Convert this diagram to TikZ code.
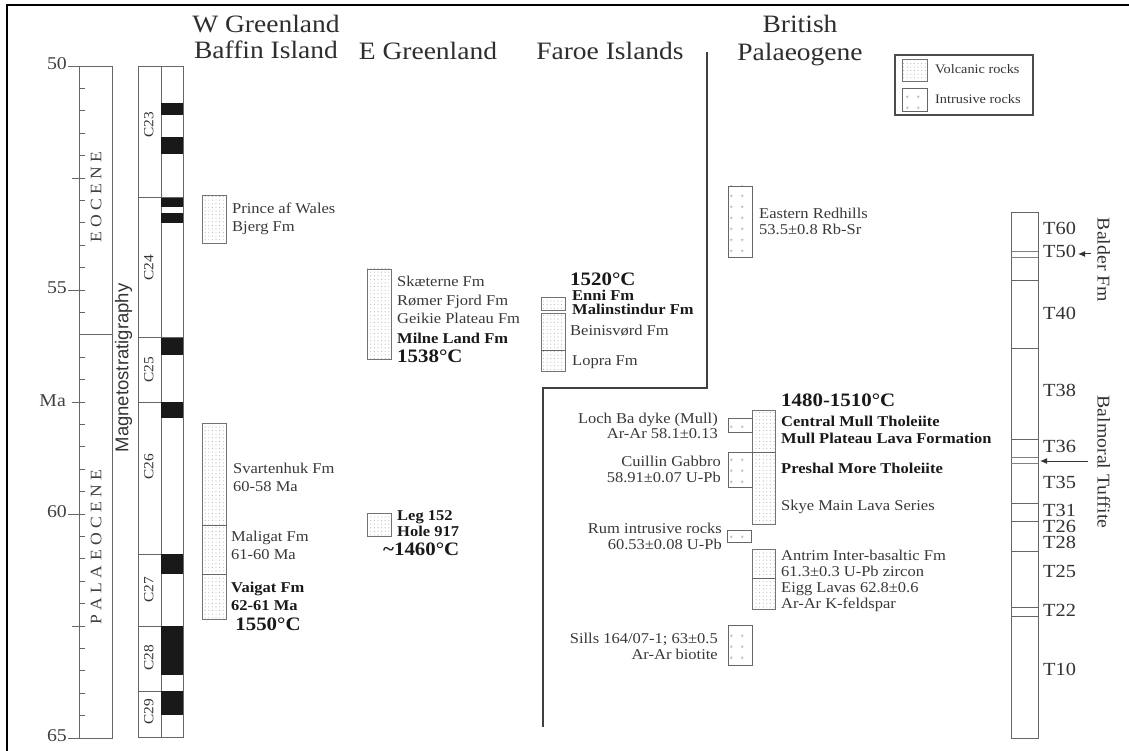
\documentclass[tikz,border=0pt]{standalone}
\usepackage{fontspec}
\setmainfont[FakeStretch=1.1]{Liberation Serif}
\newfontfamily\magfont{Liberation Sans}
\usetikzlibrary{patterns,arrows.meta}
\pgfdeclarepatternformonly{vdots}{\pgfqpoint{-1pt}{-1pt}}{\pgfqpoint{1pt}{1pt}}{\pgfqpoint{3.6pt}{3.6pt}}{%
  \pgfpathcircle{\pgfqpoint{0pt}{0pt}}{0.55pt}\pgfusepath{fill}}
\pgfdeclarepatternformonly{pluses}{\pgfqpoint{0pt}{0pt}}{\pgfqpoint{11pt}{11pt}}{\pgfqpoint{11pt}{11pt}}{%
  \pgfsetlinewidth{0.5pt}%
  \pgfpathmoveto{\pgfqpoint{4pt}{5.5pt}}\pgfpathlineto{\pgfqpoint{7pt}{5.5pt}}%
  \pgfpathmoveto{\pgfqpoint{5.5pt}{4pt}}\pgfpathlineto{\pgfqpoint{5.5pt}{7pt}}%
  \pgfusepath{stroke}}
\begin{document}
\begin{tikzpicture}[x=1pt,y=-1pt,
  tx/.style={inner sep=0pt, text height=0.68em, text depth=0pt},
  lbl/.style={tx, font=\fontsize{15}{17}\selectfont, text=black!78, anchor=west},
  lblb/.style={tx, font=\fontsize{15}{17}\selectfont\bfseries, text=black!90, anchor=west},
  lblr/.style={tx, font=\fontsize{15}{17}\selectfont, text=black!78, anchor=east},
  temp/.style={tx, anchor=west, font=\fontsize{19}{21}\selectfont\bfseries, text=black!90},
  ttl/.style={tx, font=\fontsize{25}{28}\selectfont, text=black!82},
  axnum/.style={tx, anchor=east, font=\fontsize{18}{20}\selectfont, text=black!75},
  chron/.style={tx, rotate=90, font=\fontsize{14}{16}\selectfont, text=black!80},
  epoch/.style={tx, rotate=90, font=\fontsize{16}{18}\selectfont, text=black!75},
  tlab/.style={tx, anchor=west, font=\fontsize{18.5}{20}\selectfont, text=black!80},
  side/.style={tx, rotate=-90, font=\fontsize{18}{20}\selectfont, text=black!80},
  leg/.style={tx, anchor=west, font=\fontsize{13}{15}\selectfont, text=black!80},
  volc/.style={draw=black!55, line width=0.9pt, pattern=vdots, pattern color=black!30},
  intr/.style={draw=black!60, line width=0.9pt, pattern=pluses, pattern color=black!40},
  boxline/.style={draw=black!60, line width=0.9pt},
  axline/.style={draw=black!60, line width=0.9pt},
  arr/.style={draw=black!80, line width=1pt, -{Latex[length=7pt,width=6pt]}}
]
\useasboundingbox (0,0) rectangle (1129,751);
% frame
\draw[line width=2pt] (7,751) -- (7,5) -- (1129,5);

% ---- time axis ----
\draw[axline] (79,66) rectangle (112,738);
\draw[axline] (79,334) -- (112,334);
\foreach \i in {1,...,29}{\pgfmathsetmacro\yy{66+\i*22.4}\draw[axline] (79,\yy) -- (85,\yy);}
\foreach \i in {5,15,25}{\pgfmathsetmacro\yy{66+\i*22.4}\draw[axline] (72,\yy) -- (85,\yy);}
\foreach \i in {0,10,20,30}{\pgfmathsetmacro\yy{66+\i*22.4}\draw[axline] (68,\yy) -- (79,\yy);}
\node[axnum] (a50) at (67,66) {50};
\node[axnum] (a55) at (67,290) {55};
\node[axnum] (a60) at (67,514) {60};
\node[axnum] (a65) at (67,738) {65};
\node[axnum] (ama) at (66,403) {Ma};
\node[epoch] (eoc) at (98,197) {E O C E N E};
\node[epoch] (pal) at (98,547) {P A L A E O C E N E};
\node[tx, rotate=90, font=\magfont\fontsize{18.5}{20}\selectfont, text=black!80] (mag) at (125,368) {Magnetostratigraphy};

% ---- magnetostratigraphy column ----
\draw[axline] (138,66) rectangle (183,737);
\draw[axline] (161,66) -- (161,737);
\foreach \yy in {197,337,402,554,626,691}{\draw[axline] (138,\yy) -- (183,\yy);}
\foreach \a/\b in {103/115,137/154,198/207,213/223,338/355,402/418,554/574,626/675,691/715}{
  \fill[black!90] (161,\a) rectangle (183,\b);}
\node[chron] (c23) at (150,125) {C23};
\node[chron] (c24) at (150,268) {C24};
\node[chron] (c25) at (150,370) {C25};
\node[chron] (c26) at (150,467) {C26};
\node[chron] (c27) at (150,590) {C27};
\node[chron] (c28) at (150,658) {C28};
\node[chron] (c29) at (150,712) {C29};

% ---- titles ----
\node[ttl] (t1) at (266,29) {W Greenland};
\node[ttl] (t2) at (266,55) {Baffin Island};
\node[ttl] (t3) at (428,56) {E Greenland};
\node[ttl] (t4) at (610,56) {Faroe Islands};
\node[ttl] (t5) at (800,29) {British};
\node[ttl] (t6) at (800,57) {Palaeogene};

% divider
\draw[draw=black!75, line width=1.3pt] (707,52) -- (707,388) -- (543,388) -- (543,727);

% ---- W Greenland ----
\draw[volc] (202,195) rectangle (226,243);
\node[lbl] (pw1) at (232,210) {Prince af Wales};
\node[lbl] (pw2) at (232,228) {Bjerg Fm};
\draw[volc] (202,423) rectangle (226,619);
\draw[boxline] (202,525) -- (226,525);
\draw[boxline] (202,574) -- (226,574);
\node[lbl] (sv1) at (233,470) {Svartenhuk Fm};
\node[lbl] (sv2) at (233,488) {60-58 Ma};
\node[lbl] (mg1) at (231,538) {Maligat Fm};
\node[lbl] (mg2) at (231,556) {61-60 Ma};
\node[lblb] (vg1) at (231,589) {Vaigat Fm};
\node[lblb] (vg2) at (231,607) {62-61 Ma};
\node[temp, anchor=center] (vgt) at (268,627) {1550°C};

% ---- E Greenland ----
\draw[volc] (367,269) rectangle (391,359);
\node[lbl] (eg1) at (397,283) {Skæterne Fm};
\node[lbl] (eg2) at (397,302) {Rømer Fjord Fm};
\node[lbl] (eg3) at (397,320) {Geikie Plateau Fm};
\node[lblb] (eg4) at (397,340) {Milne Land Fm};
\node[temp] (egt) at (397,359) {1538°C};
\draw[volc] (367,513) rectangle (391,536);
\node[lblb] (lg1) at (397,517) {Leg 152};
\node[lblb] (lg2) at (397,533) {Hole 917};
\node[temp] (lgt) at (383,552) {\textasciitilde1460°C};

% ---- Faroe ----
\draw[volc] (541,297) rectangle (565,310);
\draw[volc] (541,313) rectangle (565,371);
\draw[boxline] (541,350) -- (565,350);
\node[temp] (frt) at (570,282) {1520°C};
\node[lblb] (fr1) at (572,297) {Enni Fm};
\node[lblb] (fr2) at (572,311) {Malinstindur Fm};
\node[lbl] (fr3) at (570,332) {Beinisvørd Fm};
\node[lbl] (fr4) at (572,362) {Lopra Fm};

% ---- British ----
\draw[intr] (728,186) rectangle (752,257);
\node[lbl] (er1) at (759,215) {Eastern Redhills};
\node[lbl] (er2) at (759,231) {53.5±0.8 Rb-Sr};

\draw[volc] (752,410) rectangle (775,524);
\draw[boxline] (752,452) -- (775,452);
\draw[intr] (728,418) rectangle (752,432);
\draw[intr] (728,452) rectangle (752,487);
\draw[intr] (727,530) rectangle (751,542);
\draw[volc] (752,549) rectangle (775,609);
\draw[boxline] (752,578) -- (775,578);
\draw[intr] (728,625) rectangle (752,665);

\node[lblr] (lb1) at (718,420) {Loch Ba dyke (Mull)};
\node[lblr] (lb2) at (718,435) {Ar-Ar 58.1±0.13};
\node[lblr] (cg1) at (721,463) {Cuillin Gabbro};
\node[lblr] (cg2) at (721,479) {58.91±0.07 U-Pb};
\node[lblr] (ru1) at (722,530) {Rum intrusive rocks};
\node[lblr] (ru2) at (722,546) {60.53±0.08 U-Pb};
\node[lblr] (si1) at (718,640) {Sills 164/07-1; 63±0.5};
\node[lblr] (si2) at (718,656) {Ar-Ar biotite};

\node[temp] (bpt) at (781,403) {1480-1510°C};
\node[lblb] (bp1) at (781,423) {Central Mull Tholeiite};
\node[lblb] (bp2) at (781,440) {Mull Plateau Lava Formation};
\node[lblb] (bp3) at (781,470) {Preshal More Tholeiite};
\node[lbl] (bp4) at (781,507) {Skye Main Lava Series};
\node[lbl] (bp5) at (781,557) {Antrim Inter-basaltic Fm};
\node[lbl] (bp6) at (781,573) {61.3±0.3 U-Pb zircon};
\node[lbl] (bp7) at (781,589) {Eigg Lavas 62.8±0.6};
\node[lbl] (bp8) at (781,605) {Ar-Ar K-feldspar};

% ---- legend ----
\draw[draw=black!70, line width=1.1pt] (895,55) rectangle (1033,115);
\draw[volc] (902,59) rectangle (927,81);
\draw[intr] (902,88) rectangle (927,111);
\node[leg] (lgv) at (935,70) {Volcanic rocks};
\node[leg] (lgi) at (935,100) {Intrusive rocks};

% ---- T zones ----
\draw[axline] (1011,212) rectangle (1038,738);
\foreach \yy in {280,348,439,503,521,551,607,616}{\draw[axline] (1011,\yy) -- (1038,\yy);}
\foreach \yy in {251,257,457,463}{\draw[draw=black!50, line width=0.7pt] (1011,\yy) -- (1038,\yy);}
\node[tlab] (z60) at (1043,231) {T60};
\node[tlab] (z50) at (1043,254) {T50};
\node[tlab] (z40) at (1043,316) {T40};
\node[tlab] (z38) at (1043,393) {T38};
\node[tlab] (z36) at (1043,449) {T36};
\node[tlab] (z35) at (1043,485) {T35};
\node[tlab] (z31) at (1043,513) {T31};
\node[tlab] (z26) at (1043,529) {T26};
\node[tlab] (z28) at (1043,545) {T28};
\node[tlab] (z25) at (1043,574) {T25};
\node[tlab] (z22) at (1043,613) {T22};
\node[tlab] (z10) at (1043,672) {T10};
\node[side] (bal) at (1101,260) {Balder Fm};
\node[side] (bmt) at (1101,462) {Balmoral Tuffite};
\coordinate (ba1) at (1091,254);
\coordinate (ba2) at (1078,254);
\draw[arr] (ba1) -- (ba2);
\coordinate (bm1) at (1088,461);
\coordinate (bm2) at (1040,461);
\draw[arr] (bm1) -- (bm2);
\end{tikzpicture}
\end{document}
